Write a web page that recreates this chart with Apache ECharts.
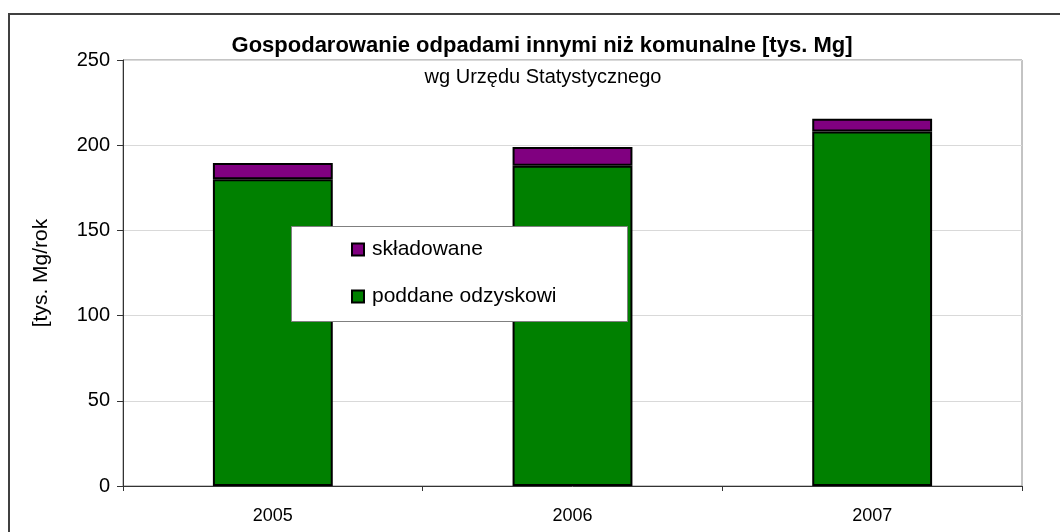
<!DOCTYPE html>
<html>
<head>
<meta charset="utf-8">
<script src="https://cdn.jsdelivr.net/npm/echarts@6/dist/echarts.min.js"></script>
<style>
html,body{margin:0;padding:0;background:#fff;}
#chart{width:1060px;height:532px;}
</style>
</head>
<body>
<div id="chart"></div>
<script>
const categories = ['2005', '2006', '2007'];
const odzysk = [180, 188, 208];
const skladowane = [9.5, 11, 7.5];
const seriesNames = ['składowane', 'poddane odzyskowi'];
const titleText = 'Gospodarowanie odpadami innymi niż komunalne [tys. Mg]';
const subtitleText = 'wg Urzędu Statystycznego';
const yAxisName = '[tys. Mg/rok';
const yMin = 0, yMax = 250, yInterval = 50;

const FONT = '"Liberation Sans", Arial, sans-serif';
const chart = echarts.init(document.getElementById('chart'), null, {renderer: 'canvas'});
chart.setOption({
  animation: false,
  backgroundColor: '#fff',
  textStyle: {fontFamily: FONT},
  title: [{
    text: titleText,
    left: 537, top: 30, textAlign: 'center',
    textStyle: {fontFamily: FONT, fontSize: 22, fontWeight: 'bold', color: '#000'}
  }, {
    text: subtitleText,
    left: 538, top: 62, textAlign: 'center',
    textStyle: {fontFamily: FONT, fontSize: 20, fontWeight: 'normal', color: '#000'}
  }],
  graphic: [{
    type: 'rect', z: -10, silent: true,
    shape: {x: 9, y: 14, width: 1200, height: 700},
    style: {fill: 'none', stroke: '#404040', lineWidth: 2}
  }, {
    type: 'rect', z: 3, silent: true,
    shape: {x: 291.5, y: 226.5, width: 336, height: 95},
    style: {fill: '#fff', stroke: '#808080', lineWidth: 1}
  }],
  legend: {
    orient: 'vertical',
    left: 346, top: 234,
    padding: [5, 5, 5, 5],
    itemWidth: 12, itemHeight: 12, itemGap: 26,
    icon: 'rect',
    z: 5,
    data: seriesNames,
    textStyle: {fontFamily: FONT, fontSize: 21, color: '#000', lineHeight: 20, padding: [0, 0, 0, 3]}
  },
  grid: {
    left: 123, top: 60, right: 38, bottom: 46,
    show: true, borderColor: '#888', borderWidth: 1, backgroundColor: 'transparent'
  },
  xAxis: {
    type: 'category',
    data: categories,
    axisLine: {lineStyle: {color: '#333', width: 1}},
    axisTick: {show: true, length: 5, lineStyle: {color: '#333'}},
    axisLabel: {color: '#000', fontSize: 18, fontFamily: FONT, margin: 21}
  },
  yAxis: {
    type: 'value',
    min: yMin, max: yMax, interval: yInterval,
    name: yAxisName,
    nameLocation: 'middle',
    nameGap: 71,
    nameRotate: 90,
    nameTextStyle: {color: '#000', fontSize: 21, fontFamily: FONT},
    axisLine: {show: true, lineStyle: {color: '#333', width: 1}},
    axisTick: {show: true, length: 6, lineStyle: {color: '#333'}},
    axisLabel: {color: '#000', fontSize: 20, fontFamily: FONT, margin: 13},
    splitLine: {lineStyle: {color: '#d9d9d9', width: 1}}
  },
  series: [{
    name: 'poddane odzyskowi',
    type: 'bar', stack: 'total',
    barWidth: '40%',
    data: odzysk,
    itemStyle: {color: '#008000', borderColor: '#000', borderWidth: 2}
  }, {
    name: 'składowane',
    type: 'bar', stack: 'total',
    barWidth: '40%',
    data: skladowane,
    itemStyle: {color: '#800080', borderColor: '#000', borderWidth: 2}
  }]
});
</script>
</body>
</html>
